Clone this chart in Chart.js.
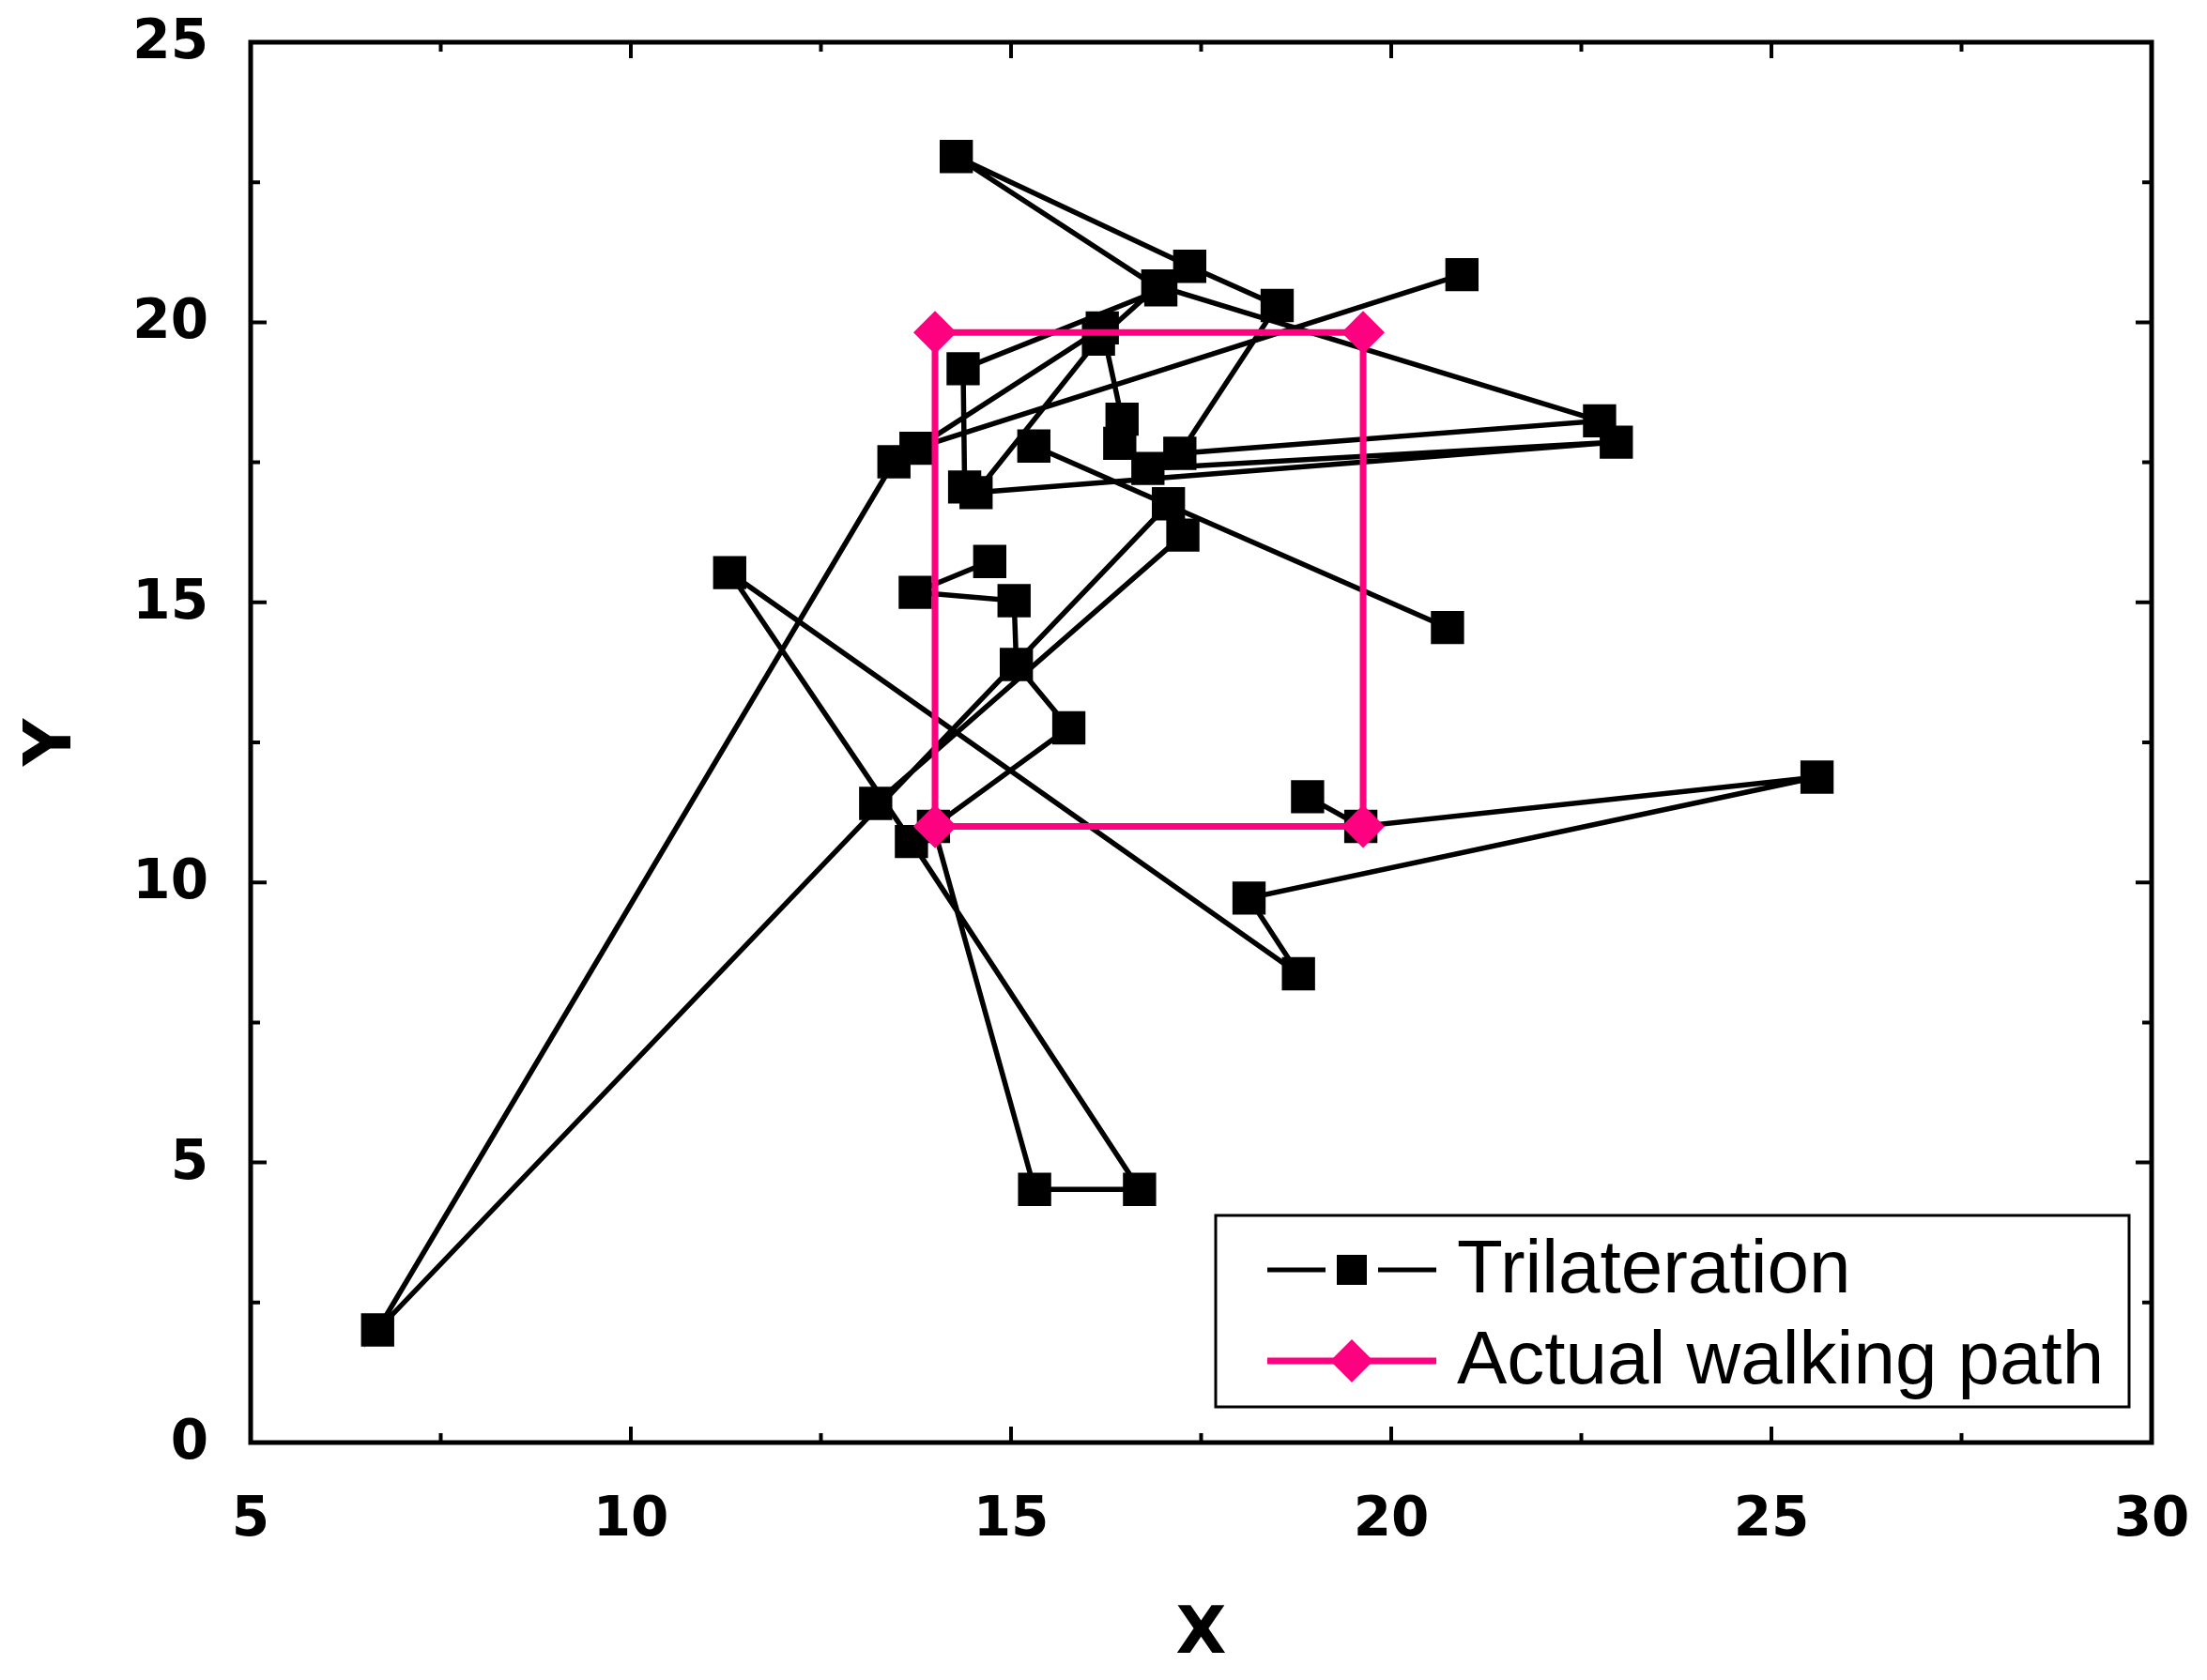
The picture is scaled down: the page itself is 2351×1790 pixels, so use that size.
<!DOCTYPE html>
<html>
<head>
<meta charset="utf-8">
<script src="https://cdn.jsdelivr.net/npm/chart.js@4.4.1/dist/chart.umd.min.js"></script>
<style>
    html, body { margin: 0; padding: 0; background: #fff; }
</style>
</head>
<body>
<canvas id="myChart" width="2351" height="1790"></canvas>
<script>
// trilateration estimates, in the order they were recorded (null = break in the line)
const trilX = [18.9, 19.6, 25.6, 18.13, 18.78, 11.3, 13.69, 16.69, 15.31, 13.98, 15.76, 15.07, 15.04, 13.74, 14.72,
    null,
    20.93, 13.75, 16.2, 16.46, 16.43, 16.8, 22.96, 14.54, 16.15, 16.93, 22.74, 17.22, 18.5, 17.35, 14.28, 16.97, 14.37, 14.39,
    null,
    20.74, 15.3,
    null,
    13.46, 6.67, 17.07, 17.26, 13.22];
const trilY = [11.53, 11.0, 11.88, 9.72, 8.37, 15.53, 10.73, 4.52, 4.52, 11.0, 12.76, 13.89, 15.03, 15.18, 15.73,
    null,
    20.85, 17.75, 19.9, 18.27, 17.84, 17.39, 17.86, 16.96, 19.7, 20.65, 18.24, 17.66, 20.3, 21.0, 22.96, 20.58, 19.17, 17.06,
    null,
    14.55, 17.79,
    null,
    17.51, 2.01, 16.76, 16.2, 11.41];

// actual walking path (rectangle)
const pathX = [14.0, 14.0, 19.63, 19.63, 14.0];
const pathY = [11.0, 19.82, 19.82, 11.0, 11.0];

const seriesNames = ['Trilateration', 'Actual walking path'];
const xTicks = [5, 10, 15, 20, 25, 30];
const yTicks = [0, 5, 10, 15, 20, 25];

const PINK = 'rgb(255, 0, 128)';
const TICK_FONT = 'DejaVu Sans';

const toPoints = (xs, ys) => xs.map((x, i) => ({ x: x, y: ys[i] }));

// Origin-style box with inward ticks on all four sides, tick labels and the boxed legend
const originFrame = {
    id: 'originFrame',
    afterDraw(chart) {
        const { ctx, chartArea: a, scales } = chart;
        const sx = scales.x, sy = scales.y;
        ctx.save();
        ctx.strokeStyle = '#000';
        ctx.lineWidth = 5;
        ctx.strokeRect(a.left, a.top, a.right - a.left, a.bottom - a.top);

        const majorLen = 17, minorLen = 10;
        ctx.lineWidth = 4;
        const tickAt = (vals, len, isX) => {
            vals.forEach((v) => {
                ctx.beginPath();
                if (isX) {
                    const px = sx.getPixelForValue(v);
                    ctx.moveTo(px, a.bottom); ctx.lineTo(px, a.bottom - len);
                    ctx.moveTo(px, a.top); ctx.lineTo(px, a.top + len);
                } else {
                    const py = sy.getPixelForValue(v);
                    ctx.moveTo(a.left, py); ctx.lineTo(a.left + len, py);
                    ctx.moveTo(a.right, py); ctx.lineTo(a.right - len, py);
                }
                ctx.stroke();
            });
        };
        const mids = (arr) => arr.slice(1).map((v, i) => (v + arr[i]) / 2);
        tickAt(xTicks, majorLen, true);
        tickAt(mids(xTicks), minorLen, true);
        tickAt(yTicks, majorLen, false);
        tickAt(mids(yTicks), minorLen, false);

        // tick labels
        ctx.fillStyle = '#000';
        ctx.font = 'bold 58px "' + TICK_FONT + '"';
        ctx.textBaseline = 'middle';
        ctx.textAlign = 'center';
        xTicks.forEach((v) => ctx.fillText(String(v), sx.getPixelForValue(v), a.bottom + 84));
        ctx.textAlign = 'right';
        yTicks.forEach((v) => ctx.fillText(String(v), a.left - 45, sy.getPixelForValue(v) + 2));

        // legend
        const lx = 1295, ly = 1295, lw = 973, lh = 204;
        ctx.lineWidth = 3;
        ctx.fillStyle = '#fff';
        ctx.fillRect(lx, ly, lw, lh);
        ctx.strokeRect(lx, ly, lw, lh);

        const rows = [1353, 1450];
        // row 1: black line with square
        ctx.strokeStyle = '#000';
        ctx.lineWidth = 5;
        ctx.beginPath();
        ctx.moveTo(1350, rows[0]); ctx.lineTo(1412, rows[0]);
        ctx.moveTo(1468, rows[0]); ctx.lineTo(1530, rows[0]);
        ctx.stroke();
        ctx.fillStyle = '#000';
        ctx.fillRect(1440 - 16, rows[0] - 16, 32, 32);
        // row 2: pink line with diamond
        ctx.strokeStyle = PINK;
        ctx.lineWidth = 7;
        ctx.beginPath();
        ctx.moveTo(1350, rows[1]); ctx.lineTo(1530, rows[1]);
        ctx.stroke();
        ctx.fillStyle = PINK;
        ctx.beginPath();
        ctx.moveTo(1440, rows[1] - 23); ctx.lineTo(1463, rows[1]);
        ctx.lineTo(1440, rows[1] + 23); ctx.lineTo(1417, rows[1]);
        ctx.closePath();
        ctx.fill();

        ctx.fillStyle = '#000';
        ctx.font = '80px "Liberation Sans", Arial, sans-serif';
        ctx.textBaseline = 'middle';
        ctx.textAlign = 'left';
        ctx.fillText(seriesNames[0], 1552, rows[0] + 2);
        ctx.fillText(seriesNames[1], 1552, rows[1] + 2);
        ctx.restore();
    }
};

const renderChart = () => {
    const ctx = document.getElementById('myChart').getContext('2d');

    new Chart(ctx, {
        type: 'line',
        data: {
            datasets: [{
                label: seriesNames[0],
                data: toPoints(trilX, trilY),
                borderColor: '#000',
                borderWidth: 5.5,
                backgroundColor: '#000',
                pointStyle: 'rect',
                pointRadius: 25,
                pointBorderWidth: 0,
                pointBackgroundColor: '#000',
                spanGaps: false,
                tension: 0,
                order: 1
            }, {
                label: seriesNames[1],
                data: toPoints(pathX, pathY),
                borderColor: PINK,
                borderWidth: 7,
                pointStyle: 'rectRot',
                pointRadius: 23,
                pointBorderWidth: 0,
                pointBackgroundColor: PINK,
                tension: 0,
                order: 0
            }]
        },
        options: {
            responsive: false,
            devicePixelRatio: 1,
            animation: false,
            layout: { padding: { left: 0, top: 45, right: 59, bottom: 0 } },
            plugins: {
                legend: { display: false },
                tooltip: { enabled: false }
            },
            scales: {
                x: {
                    type: 'linear',
                    min: 5,
                    max: 30,
                    grid: { display: false, drawTicks: false },
                    border: { display: false },
                    ticks: { display: false, stepSize: 5 },
                    title: {
                        display: true,
                        text: 'X',
                        color: '#000',
                        padding: { top: 0, bottom: 5 },
                        font: { family: TICK_FONT, size: 70, weight: 'bold' }
                    },
                    afterFit: (scale) => { scale.height = 253; }
                },
                y: {
                    type: 'linear',
                    min: 0,
                    max: 25,
                    grid: { display: false, drawTicks: false },
                    border: { display: false },
                    ticks: { display: false, stepSize: 5 },
                    title: {
                        display: true,
                        text: 'Y',
                        color: '#000',
                        padding: { top: 15, bottom: 0 },
                        font: { family: TICK_FONT, size: 70, weight: 'bold' }
                    },
                    afterFit: (scale) => { scale.width = 267; }
                }
            }
        },
        plugins: [originFrame]
    });
};

window.addEventListener('load', renderChart);
</script>
</body>
</html>
